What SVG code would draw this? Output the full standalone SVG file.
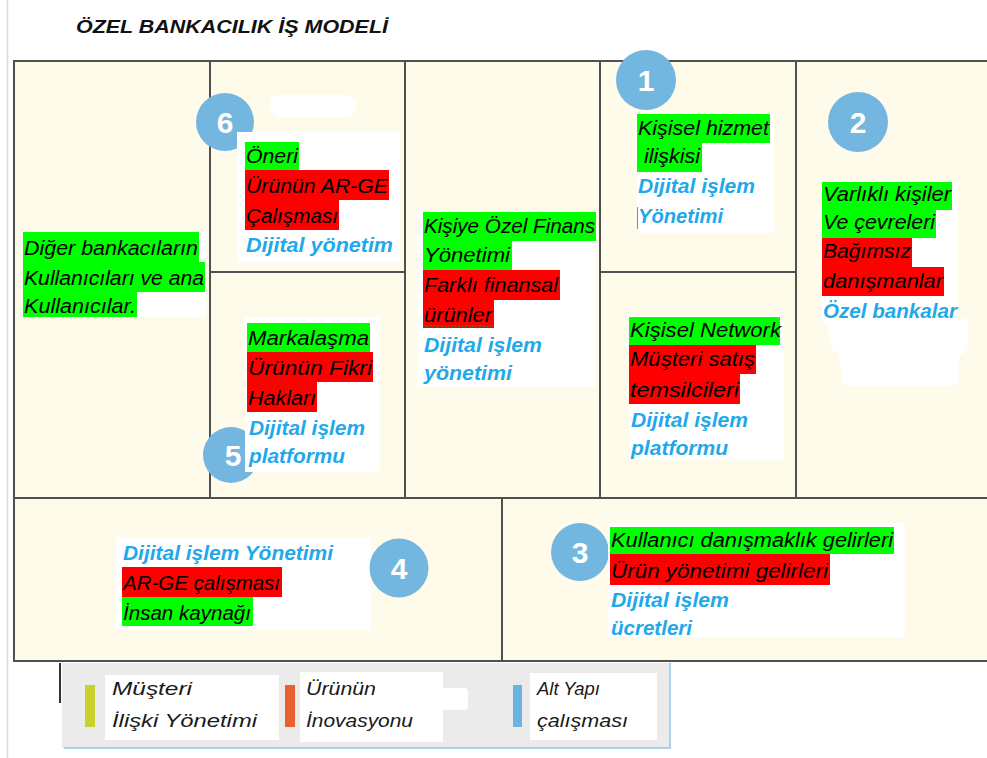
<svg xmlns="http://www.w3.org/2000/svg" width="987" height="758" viewBox="0 0 987 758">
  <style>
    .cell { fill: #fefbeb; stroke: #505050; stroke-width: 2; }
    .pad { fill: #ffffff; }
    .hg { fill: #00ff00; }
    .hr { fill: #ff0000; }
    .t { font-family: "Liberation Sans", Arial, sans-serif; font-style: italic; font-size: 20px; fill: #000000; }
    .b { font-weight: bold; fill: #1fa8ea; }
    .badge { fill: #73b7e0; }
    .num { font-family: "Liberation Sans", Arial, sans-serif; font-weight: bold; font-size: 30px; fill: #ffffff; text-anchor: middle; }
    .lg { font-family: "Liberation Sans", Arial, sans-serif; font-style: italic; font-size: 19px; fill: #1a1a1a; }
  </style>

  <rect x="0" y="0" width="987" height="758" fill="#ffffff"/>
  <line x1="7.5" y1="0" x2="7.5" y2="758" stroke="#d4dbe6" stroke-width="1.5"/>

  <text x="76" y="33" font-family="'Liberation Sans', Arial, sans-serif" font-weight="bold" font-style="italic" font-size="19" fill="#111111" textLength="312" lengthAdjust="spacingAndGlyphs">ÖZEL BANKACILIK İŞ MODELİ</text>

  <!-- left column -->
  <g id="partners">
    <rect class="cell" x="14" y="61" width="196" height="437"/>
    <rect class="pad" x="23" y="232" width="183" height="85"/>
    <rect class="hg" x="23" y="232" width="176" height="30"/>
    <rect class="hg" x="23" y="262" width="182" height="30"/>
    <rect class="hg" x="23" y="292" width="114" height="25"/>
    <text class="t" x="24" y="255" textLength="174" lengthAdjust="spacingAndGlyphs">Diğer bankacıların</text>
    <text class="t" x="24" y="285" textLength="180" lengthAdjust="spacingAndGlyphs">Kullanıcıları ve ana</text>
    <text class="t" x="24" y="313" textLength="112" lengthAdjust="spacingAndGlyphs">Kullanıcılar.</text>
  </g>

  <g id="activities">
    <rect class="cell" x="210" y="61" width="195" height="211"/>
    <circle class="badge" cx="225" cy="122" r="29"/>
    <text class="num" x="225" y="133">6</text>
    <rect class="pad" x="270" y="95" width="86" height="22" rx="9"/>
    <rect class="pad" x="237" y="132" width="163" height="131"/>
    <rect class="hg" x="245" y="142" width="54" height="28"/>
    <rect class="hr" x="245" y="170" width="144" height="30"/>
    <rect class="hr" x="245" y="200" width="94" height="30"/>
    <text class="t" x="246" y="163" textLength="52" lengthAdjust="spacingAndGlyphs">Öneri</text>
    <text class="t" x="246" y="193" textLength="142" lengthAdjust="spacingAndGlyphs">Ürünün AR-GE</text>
    <text class="t" x="246" y="223" textLength="92" lengthAdjust="spacingAndGlyphs">Çalışması</text>
    <text class="t b" x="246" y="252" textLength="147" lengthAdjust="spacingAndGlyphs">Dijital yönetim</text>
  </g>

  <g id="resources">
    <rect class="cell" x="210" y="272" width="195" height="226"/>
    <circle class="badge" cx="231" cy="455" r="28"/>
    <text class="num" x="233" y="466">5</text>
    <rect class="pad" x="245" y="317" width="135" height="155"/>
    <rect class="hg" x="247" y="323" width="123" height="29"/>
    <rect class="hr" x="247" y="352" width="126" height="30"/>
    <rect class="hr" x="247" y="382" width="70" height="30"/>
    <text class="t" x="248" y="345" textLength="121" lengthAdjust="spacingAndGlyphs">Markalaşma</text>
    <text class="t" x="248" y="375" textLength="124" lengthAdjust="spacingAndGlyphs">Ürünün  Fikri</text>
    <text class="t" x="248" y="405" textLength="68" lengthAdjust="spacingAndGlyphs">Hakları</text>
    <text class="t b" x="249" y="435" textLength="116" lengthAdjust="spacingAndGlyphs">Dijital işlem</text>
    <text class="t b" x="249" y="463" textLength="96" lengthAdjust="spacingAndGlyphs">platformu</text>
  </g>

  <g id="value">
    <rect class="cell" x="405" y="61" width="195" height="437"/>
    <rect class="pad" x="417" y="212" width="178" height="175"/>
    <rect class="hg" x="423" y="212" width="173" height="29"/>
    <rect class="hg" x="423" y="241" width="89" height="29"/>
    <rect class="hr" x="423" y="270" width="137" height="30"/>
    <rect class="hr" x="423" y="300" width="71" height="28"/>
    <line x1="423" y1="326" x2="494" y2="326" stroke="#2e7d32" stroke-width="1.5" stroke-dasharray="2 1.5"/>
    <text class="t" x="424" y="233" textLength="171" lengthAdjust="spacingAndGlyphs">Kişiye Özel Finans</text>
    <text class="t" x="424" y="262" textLength="86" lengthAdjust="spacingAndGlyphs">Yönetimi</text>
    <text class="t" x="424" y="292" textLength="134" lengthAdjust="spacingAndGlyphs">Farklı finansal</text>
    <text class="t" x="424" y="322" textLength="68" lengthAdjust="spacingAndGlyphs">ürünler</text>
    <text class="t b" x="424" y="352" textLength="118" lengthAdjust="spacingAndGlyphs">Dijital işlem</text>
    <text class="t b" x="424" y="380" textLength="88" lengthAdjust="spacingAndGlyphs">yönetimi</text>
  </g>

  <g id="relationships">
    <rect class="cell" x="600" y="61" width="196" height="211"/>
    <circle class="badge" cx="646" cy="80" r="30"/>
    <text class="num" x="646" y="91">1</text>
    <rect class="pad" x="637" y="113" width="137" height="120"/>
    <rect class="hg" x="637" y="114" width="133" height="29"/>
    <rect class="hg" x="637" y="143" width="65" height="29"/>
    <text class="t" x="638" y="135" textLength="131" lengthAdjust="spacingAndGlyphs">Kişisel hizmet</text>
    <text class="t" x="644" y="163" textLength="56" lengthAdjust="spacingAndGlyphs">ilişkisi</text>
    <text class="t b" x="638" y="193" textLength="117" lengthAdjust="spacingAndGlyphs">Dijital işlem</text>
    <line x1="637.5" y1="207" x2="637.5" y2="229" stroke="#8a8a8a" stroke-width="1"/>
    <text class="t b" x="638" y="223" textLength="85" lengthAdjust="spacingAndGlyphs">Yönetimi</text>
  </g>

  <g id="channels">
    <rect class="cell" x="600" y="272" width="196" height="226"/>
    <rect class="pad" x="629" y="316" width="155" height="144"/>
    <rect class="hg" x="629" y="317" width="151" height="28"/>
    <rect class="hr" x="629" y="345" width="127" height="29"/>
    <rect class="hr" x="629" y="374" width="111" height="30"/>
    <text class="t" x="630" y="337" textLength="151" lengthAdjust="spacingAndGlyphs">Kişisel Network</text>
    <text class="t" x="630" y="366" textLength="125" lengthAdjust="spacingAndGlyphs">Müşteri satış</text>
    <text class="t" x="630" y="397" textLength="109" lengthAdjust="spacingAndGlyphs">temsilcileri</text>
    <text class="t b" x="631" y="427" textLength="117" lengthAdjust="spacingAndGlyphs">Dijital işlem</text>
    <text class="t b" x="631" y="455" textLength="97" lengthAdjust="spacingAndGlyphs">platformu</text>
  </g>

  <g id="segments">
    <rect class="cell" x="796" y="61" width="196" height="437"/>
    <circle class="badge" cx="858" cy="122" r="30"/>
    <text class="num" x="858" y="133">2</text>
    <path class="pad" d="M826 318 H962 Q968 318 968 326 V344 Q968 352 960 355 L958 380 Q957 386 950 386 H850 Q843 386 842 380 L839 354 Q830 350 830 342 Z"/>
    <rect class="pad" x="822" y="182" width="136" height="141"/>
    <rect class="hg" x="822" y="182" width="130" height="28"/>
    <rect class="hg" x="822" y="210" width="114" height="28"/>
    <rect class="hr" x="822" y="238" width="90" height="29"/>
    <rect class="hr" x="822" y="267" width="122" height="29"/>
    <text class="t" x="823" y="201" textLength="128" lengthAdjust="spacingAndGlyphs">Varlıklı kişiler</text>
    <text class="t" x="823" y="229" textLength="112" lengthAdjust="spacingAndGlyphs">Ve çevreleri</text>
    <text class="t" x="823" y="258" textLength="88" lengthAdjust="spacingAndGlyphs">Bağımsız</text>
    <text class="t" x="823" y="288" textLength="120" lengthAdjust="spacingAndGlyphs">danışmanlar</text>
    <text class="t b" x="823" y="318" textLength="134" lengthAdjust="spacingAndGlyphs">Özel bankalar</text>
  </g>

  <!-- bottom row -->
  <g id="cost">
    <rect class="cell" x="14" y="498" width="488" height="163"/>
    <rect class="pad" x="116" y="537" width="255" height="93"/>
    <circle class="badge" cx="399" cy="568" r="29.5"/>
    <text class="num" x="399" y="579">4</text>
    <rect class="hr" x="122" y="567" width="160" height="30"/>
    <rect class="hg" x="122" y="597" width="131" height="29"/>
    <text class="t b" x="123" y="560" textLength="210" lengthAdjust="spacingAndGlyphs">Dijital işlem Yönetimi</text>
    <text class="t" x="123" y="590" textLength="157" lengthAdjust="spacingAndGlyphs">AR-GE çalışması</text>
    <text class="t" x="123" y="620" textLength="128" lengthAdjust="spacingAndGlyphs">İnsan kaynağı</text>
  </g>

  <g id="revenue">
    <rect class="cell" x="502" y="498" width="490" height="163"/>
    <circle class="badge" cx="580" cy="552" r="29"/>
    <text class="num" x="580" y="563">3</text>
    <rect class="pad" x="608" y="523" width="297" height="114"/>
    <rect class="hg" x="610" y="527" width="284" height="27"/>
    <rect class="hr" x="610" y="554" width="220" height="31"/>
    <text class="t" x="611" y="547" textLength="282" lengthAdjust="spacingAndGlyphs">Kullanıcı danışmaklık gelirleri</text>
    <text class="t" x="611" y="578" textLength="217" lengthAdjust="spacingAndGlyphs">Ürün yönetimi gelirleri</text>
    <text class="t b" x="611" y="607" textLength="118" lengthAdjust="spacingAndGlyphs">Dijital işlem</text>
    <text class="t b" x="611" y="635" textLength="81" lengthAdjust="spacingAndGlyphs">ücretleri</text>
  </g>

  <!-- legend -->
  <g id="legend">
    <rect x="62" y="663" width="608" height="85" fill="#ebebeb"/>
    <polyline points="64,748 670,748 670,663" fill="none" stroke="#a9d1ec" stroke-width="2"/>
    <line x1="60" y1="663" x2="60" y2="703" stroke="#333333" stroke-width="2"/>
    <rect x="85" y="685" width="10" height="42" fill="#c9d22c"/>
    <rect class="pad" x="105" y="675" width="174" height="65"/>
    <text class="lg" x="112" y="695" textLength="80" lengthAdjust="spacingAndGlyphs">Müşteri</text>
    <text class="lg" x="112" y="727" textLength="145" lengthAdjust="spacingAndGlyphs">İlişki  Yönetimi</text>
    <rect x="285" y="685" width="10" height="42" fill="#e8612c"/>
    <rect class="pad" x="300" y="672" width="143" height="70"/>
    <rect class="pad" x="440" y="688" width="28" height="22" rx="4"/>
    <text class="lg" x="306" y="695" textLength="70" lengthAdjust="spacingAndGlyphs">Ürünün</text>
    <text class="lg" x="306" y="727" textLength="107" lengthAdjust="spacingAndGlyphs">İnovasyonu</text>
    <rect x="513" y="685" width="9" height="42" fill="#6cb4e0"/>
    <rect class="pad" x="530" y="673" width="127" height="67"/>
    <text class="lg" x="537" y="695" textLength="63" lengthAdjust="spacingAndGlyphs">Alt Yapı</text>
    <text class="lg" x="537" y="727" textLength="91" lengthAdjust="spacingAndGlyphs">çalışması</text>
  </g>
</svg>
